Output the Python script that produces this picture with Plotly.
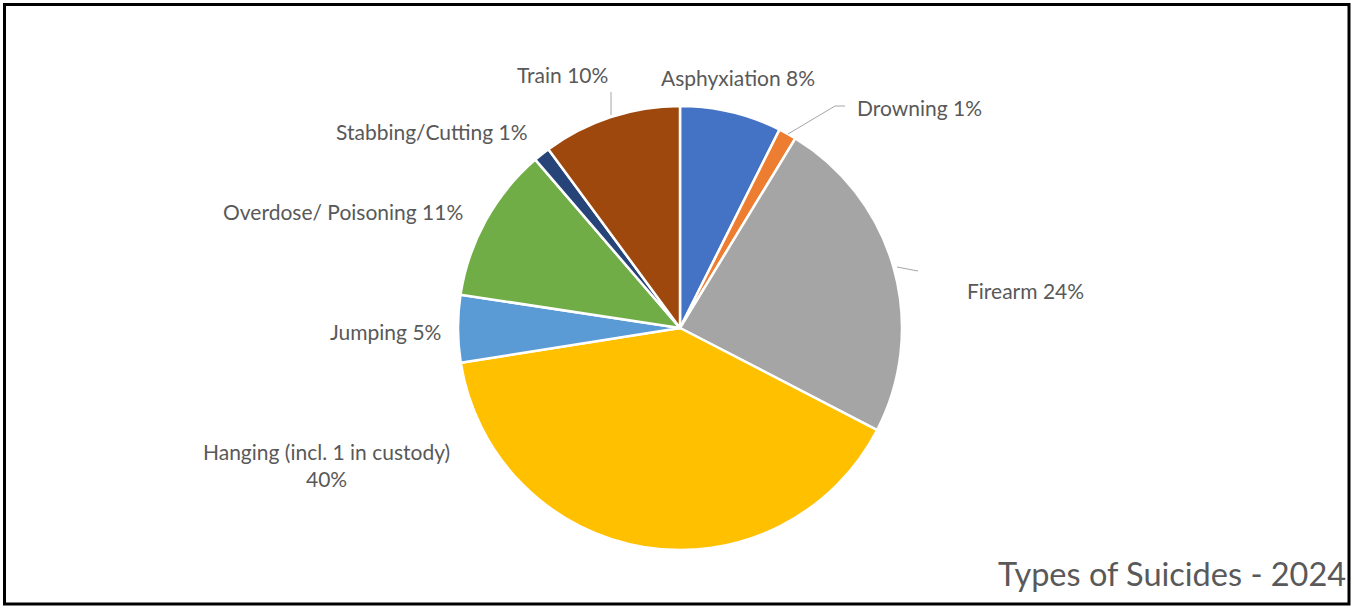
import plotly.graph_objects as go

categories = ["Asphyxiation", "Drowning", "Firearm", "Hanging (incl. 1 in custody)",
              "Jumping", "Overdose/ Poisoning", "Stabbing/Cutting", "Train"]
shares = [7.4, 1.3, 23.9, 39.9, 4.9, 11.3, 1.2, 10.1]
pct_labels = ["8%", "1%", "24%", "40%", "5%", "11%", "1%", "10%"]
colors = ["#4472C4", "#ED7D31", "#A5A5A5", "#FFC000", "#5B9BD5", "#70AD47", "#264478", "#9E480E"]

W, H = 1355, 608
cx, cy, r = 680, 328, 222

fig = go.Figure(go.Pie(
    labels=categories, values=shares, sort=False, direction="clockwise", rotation=0,
    marker=dict(colors=colors, line=dict(color="white", width=2.5)),
    textinfo="none", hoverinfo="label+percent", showlegend=False,
    domain=dict(x=[(cx - r) / W, (cx + r) / W], y=[(H - cy - r) / H, (H - cy + r) / H]),
))

# label placements (pixel centres) for each slice
label_pos = {
    "Asphyxiation": (738, 78, "center"),
    "Drowning": (855, 108, "left"),
    "Firearm": (965, 290, "left"),
    "Hanging (incl. 1 in custody)": (326, 465, "center"),
    "Jumping": (385, 331, "center"),
    "Overdose/ Poisoning": (343, 211, "center"),
    "Stabbing/Cutting": (432, 132, "center"),
    "Train": (562, 74, "center"),
}
font = dict(family="Lato, Open Sans, sans-serif", size=21, color="#595959")
anns = []
for cat, p in zip(categories, pct_labels):
    x, y, al = label_pos[cat]
    txt = f"{cat}<br>{p}" if cat.startswith("Hanging") else f"{cat} {p}"
    anns.append(dict(x=x / W, y=1 - y / H, xref="paper", yref="paper", text=txt,
                     showarrow=False, xanchor=al, yanchor="middle", font=font, align="center"))
anns.append(dict(x=1348 / W, y=1 - 573 / H, xref="paper", yref="paper",
                 text="Types of Suicides - 2024", showarrow=False, xanchor="right",
                 yanchor="middle", font=dict(family="Lato, Open Sans, sans-serif", size=32.5, color="#595959")))

def px(x, y):
    return x / W, 1 - y / H

shapes = []
# leader lines
for pts in [[(611, 92), (611, 115)], [(788, 134), (835, 106), (845, 106)], [(897, 267), (918, 271)]]:
    path = "M " + " L ".join(f"{px(*p)[0]},{px(*p)[1]}" for p in pts)
    shapes.append(dict(type="path", path=path, xref="paper", yref="paper",
                       line=dict(color="#A6A6A6", width=1)))
# outer frame
shapes.append(dict(type="rect", xref="paper", yref="paper", x0=4.5 / W, x1=1349 / W,
                   y0=1 - 604 / H, y1=1 - 4.5 / H, line=dict(color="black", width=3)))

fig.update_layout(width=W, height=H, margin=dict(l=0, r=0, t=0, b=0),
                  paper_bgcolor="white", plot_bgcolor="white",
                  annotations=anns, shapes=shapes)
fig.write_html("out.html")
